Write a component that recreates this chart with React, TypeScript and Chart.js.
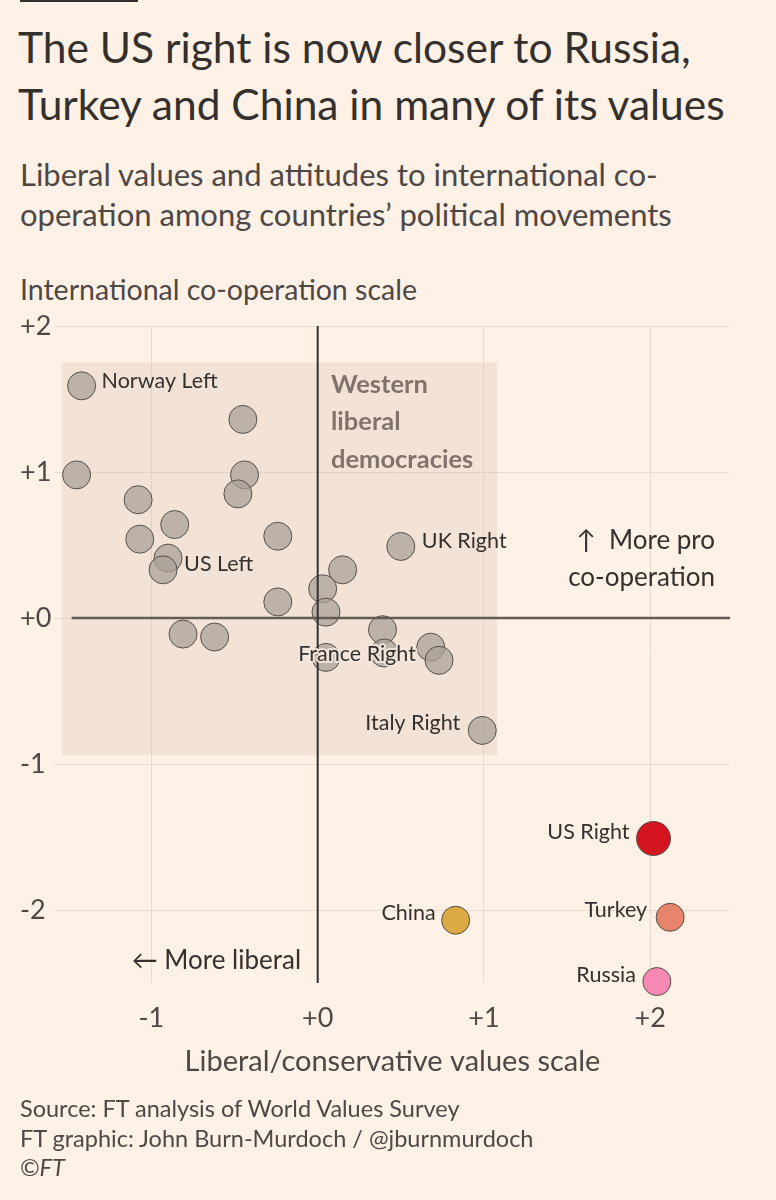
import { JSX, useEffect, useRef } from 'react';
import Chart from 'chart.js/auto';

// party / country positions
const names: string[] = [
  'Norway Left', '', '', '', '', '', '', '', '', '', 'US Left', 'UK Right',
  '', '', '', '', '', '', '', '', '', 'France Right', '', 'Italy Right',
  'US Right', 'China', 'Turkey', 'Russia',
];
const liberalScale: number[] = [
  -1.42, -0.45, -1.45, -0.44, -0.48, -1.08, -0.86, -1.07, -0.24, -0.9, -0.93, 0.5,
  0.15, 0.03, -0.24, 0.05, -0.81, -0.62, 0.39, 0.68, 0.73, 0.05, 0.4, 0.99,
  2.02, 0.83, 2.12, 2.04,
];
const cooperationScale: number[] = [
  1.59, 1.36, 0.98, 0.98, 0.85, 0.81, 0.64, 0.54, 0.56, 0.41, 0.33, 0.49,
  0.33, 0.2, 0.11, 0.04, -0.11, -0.13, -0.08, -0.2, -0.29, -0.27, -0.24, -0.77,
  -1.51, -2.07, -2.05, -2.49,
];

const xTicks: number[] = [-1, 0, 1, 2];
const xTickLabels: string[] = ['-1', '+0', '+1', '+2'];
const yTicks: number[] = [-2, -1, 0, 1, 2];
const yTickLabels: string[] = ['-2', '-1', '+0', '+1', '+2'];

// "Western liberal democracies" box, in data units
const boxX: number[] = [-1.54, 1.08];
const boxY: number[] = [-0.94, 1.75];

const BG = '#FFF1E5';
const INK = '#33302E';
const GREY_INK = '#4D4845';
const FONT = 'Lato, "Open Sans", sans-serif';

const pointFill: Record<string, string> = {
  'US Right': '#D4151F',
  China: '#DDA942',
  Turkey: '#E7856C',
  Russia: '#F78AB4',
};
const pointSize: Record<string, number> = { 'US Right': 17 };

// where each label sits relative to its dot, in px
const labelPlacement: Record<string, { dx: number; dy: number; align: CanvasTextAlign; halo?: boolean }> = {
  'Norway Left': { dx: 20, dy: -5, align: 'left' },
  'US Left': { dx: 21, dy: -6, align: 'left' },
  'UK Right': { dx: 21, dy: -5, align: 'left' },
  'France Right': { dx: 31, dy: -3, align: 'center', halo: true },
  'Italy Right': { dx: -22, dy: -7, align: 'right' },
  'US Right': { dx: -24, dy: -6, align: 'right' },
  China: { dx: -20, dy: -7, align: 'right' },
  Turkey: { dx: -23, dy: -7, align: 'right' },
  Russia: { dx: -21, dy: -6, align: 'right' },
};

const annotationPlugin = {
  id: 'ftAnnotations',
  beforeDatasetsDraw(chart: any) {
    const { ctx, scales } = chart;
    const { x, y } = scales;
    ctx.save();
    ctx.fillStyle = 'rgba(204, 185, 170, 0.24)';
    const left = x.getPixelForValue(boxX[0]);
    const right = x.getPixelForValue(boxX[1]);
    const top = y.getPixelForValue(boxY[1]);
    const bottom = y.getPixelForValue(boxY[0]);
    ctx.fillRect(left, top, right - left, bottom - top);

    ctx.fillStyle = '#82736A';
    ctx.font = `bold 25.5px ${FONT}`;
    ctx.textAlign = 'left';
    ctx.textBaseline = 'middle';
    const wx = x.getPixelForValue(0.08);
    const wy = y.getPixelForValue(1.6);
    ['Western', 'liberal', 'democracies'].forEach((line, i) => ctx.fillText(line, wx, wy + i * 37.5));
    ctx.restore();
  },
  afterDatasetsDraw(chart: any) {
    const { ctx, scales, chartArea } = chart;
    const { x, y } = scales;
    ctx.save();
    // zero lines sit on top of the dots
    ctx.strokeStyle = '#615A55';
    ctx.lineWidth = 2.5;
    ctx.beginPath();
    ctx.moveTo(x.getPixelForValue(-1.48), y.getPixelForValue(0));
    ctx.lineTo(chartArea.right, y.getPixelForValue(0));
    ctx.stroke();
    ctx.strokeStyle = INK;
    ctx.lineWidth = 2;
    ctx.beginPath();
    ctx.moveTo(x.getPixelForValue(0), chartArea.top);
    ctx.lineTo(x.getPixelForValue(0), chartArea.bottom);
    ctx.stroke();

    // dot labels
    const meta = chart.getDatasetMeta(0);
    ctx.font = `21.5px ${FONT}`;
    ctx.textBaseline = 'middle';
    names.forEach((name, i) => {
      const place = labelPlacement[name];
      if (!name || !place) return;
      const pt = meta.data[i];
      const tx = pt.x + place.dx;
      const ty = pt.y + place.dy;
      ctx.textAlign = place.align;
      if (place.halo) {
        ctx.strokeStyle = 'rgba(245, 232, 222, 0.9)';
        ctx.lineWidth = 4;
        ctx.lineJoin = 'round';
        ctx.strokeText(name, tx, ty);
      }
      ctx.fillStyle = INK;
      ctx.fillText(name, tx, ty);
    });

    // direction notes
    ctx.font = `26px ${FONT}`;
    ctx.textAlign = 'right';
    ctx.fillText('\u2191  More pro', x.getPixelForValue(2.39), y.getPixelForValue(0.53));
    ctx.fillText('co-operation', x.getPixelForValue(2.39), y.getPixelForValue(0.28));
    ctx.fillText('\u2190 More liberal', x.getPixelForValue(-0.1), y.getPixelForValue(-2.35));
    ctx.restore();
  },
};

function ValuesScatter(): JSX.Element {
  const canvasRef = useRef<HTMLCanvasElement | null>(null);
  const chartRef = useRef<Chart | null>(null);

  useEffect(() => {
    if (chartRef.current) chartRef.current.destroy();
    const ctx = canvasRef.current?.getContext('2d');
    if (!ctx) return;

    chartRef.current = new Chart(ctx, {
      type: 'scatter',
      data: {
        datasets: [
          {
            data: liberalScale.map((v, i) => ({ x: v, y: cooperationScale[i] })),
            backgroundColor: names.map((n) => pointFill[n] ?? 'rgba(170, 160, 152, 0.75)'),
            borderColor: '#564E48',
            borderWidth: 1,
            pointRadius: names.map((n) => pointSize[n] ?? 14),
            pointHoverRadius: names.map((n) => pointSize[n] ?? 14),
            clip: false,
          },
        ],
      },
      options: {
        animation: false,
        responsive: false,
        maintainAspectRatio: false,
        events: [],
        layout: { padding: { left: 20, right: 46, top: 56, bottom: 0 } },
        plugins: { legend: { display: false }, tooltip: { enabled: false } },
        scales: {
          x: {
            type: 'linear',
            min: -1.58,
            max: 2.48,
            afterBuildTicks: (scale: any) => {
              scale.ticks = xTicks.map((value) => ({ value }));
            },
            afterFit: (scale: any) => {
              scale.height = 117;
            },
            border: { display: false },
            grid: { color: '#E8DBD0', lineWidth: 1, drawTicks: false },
            ticks: {
              padding: 19,
              color: GREY_INK,
              font: { family: FONT, size: 27 },
              callback: (value: any) => xTickLabels[xTicks.indexOf(Number(value))] ?? '',
            },
            title: {
              display: true,
              text: 'Liberal/conservative values scale',
              color: GREY_INK,
              font: { family: FONT, size: 29 },
              padding: { top: 0, bottom: 21 },
            },
          },
          y: {
            type: 'linear',
            min: -2.5,
            max: 2,
            afterBuildTicks: (scale: any) => {
              scale.ticks = yTicks.map((value) => ({ value }));
            },
            afterFit: (scale: any) => {
              scale.width = 35;
            },
            border: { display: false },
            grid: { color: '#E8DBD0', lineWidth: 1, drawTicks: false },
            ticks: {
              padding: 0,
              crossAlign: 'far',
              color: GREY_INK,
              font: { family: FONT, size: 27 },
              callback: (value: any) => yTickLabels[yTicks.indexOf(Number(value))] ?? '',
            },
          },
        },
      },
      plugins: [annotationPlugin],
    });

    return () => {
      if (chartRef.current) {
        chartRef.current.destroy();
        chartRef.current = null;
      }
    };
  }, []);

  return <canvas ref={canvasRef} width={776} height={830} style={{ width: 776, height: 830 }} />;
}

export default function App(): JSX.Element {
  return (
    <div
      style={{
        position: 'fixed',
        top: 0,
        left: 0,
        width: 776,
        height: 1200,
        background: BG,
        fontFamily: FONT,
        color: INK,
        overflow: 'hidden',
      }}
    >
      <div style={{ position: 'absolute', top: 0, left: 20, width: 118, height: 2, background: INK }} />
      <div style={{ position: 'absolute', top: 18, left: 18, fontSize: 42.5, lineHeight: '57px', whiteSpace: 'nowrap' }}>
        The US right is now closer to Russia,
        <br />
        Turkey and China in many of its values
      </div>
      <div style={{ position: 'absolute', top: 154, left: 20, fontSize: 31, lineHeight: '40px', color: GREY_INK, whiteSpace: 'nowrap' }}>
        Liberal values and attitudes to international co-
        <br />
        operation among countries’ political movements
      </div>
      <div style={{ position: 'absolute', top: 272, left: 20, fontSize: 28.5, lineHeight: '34px', color: GREY_INK }}>
        International co-operation scale
      </div>
      <div style={{ position: 'absolute', top: 270, left: 0 }}>
        <ValuesScatter />
      </div>
      <div style={{ position: 'absolute', top: 1094, left: 20, fontSize: 23.5, lineHeight: '29.5px', color: GREY_INK }}>
        Source: FT analysis of World Values Survey
        <br />
        FT graphic: John Burn-Murdoch / @jburnmurdoch
        <br />
        <span style={{ fontStyle: 'italic' }}>©FT</span>
      </div>
    </div>
  );
}
